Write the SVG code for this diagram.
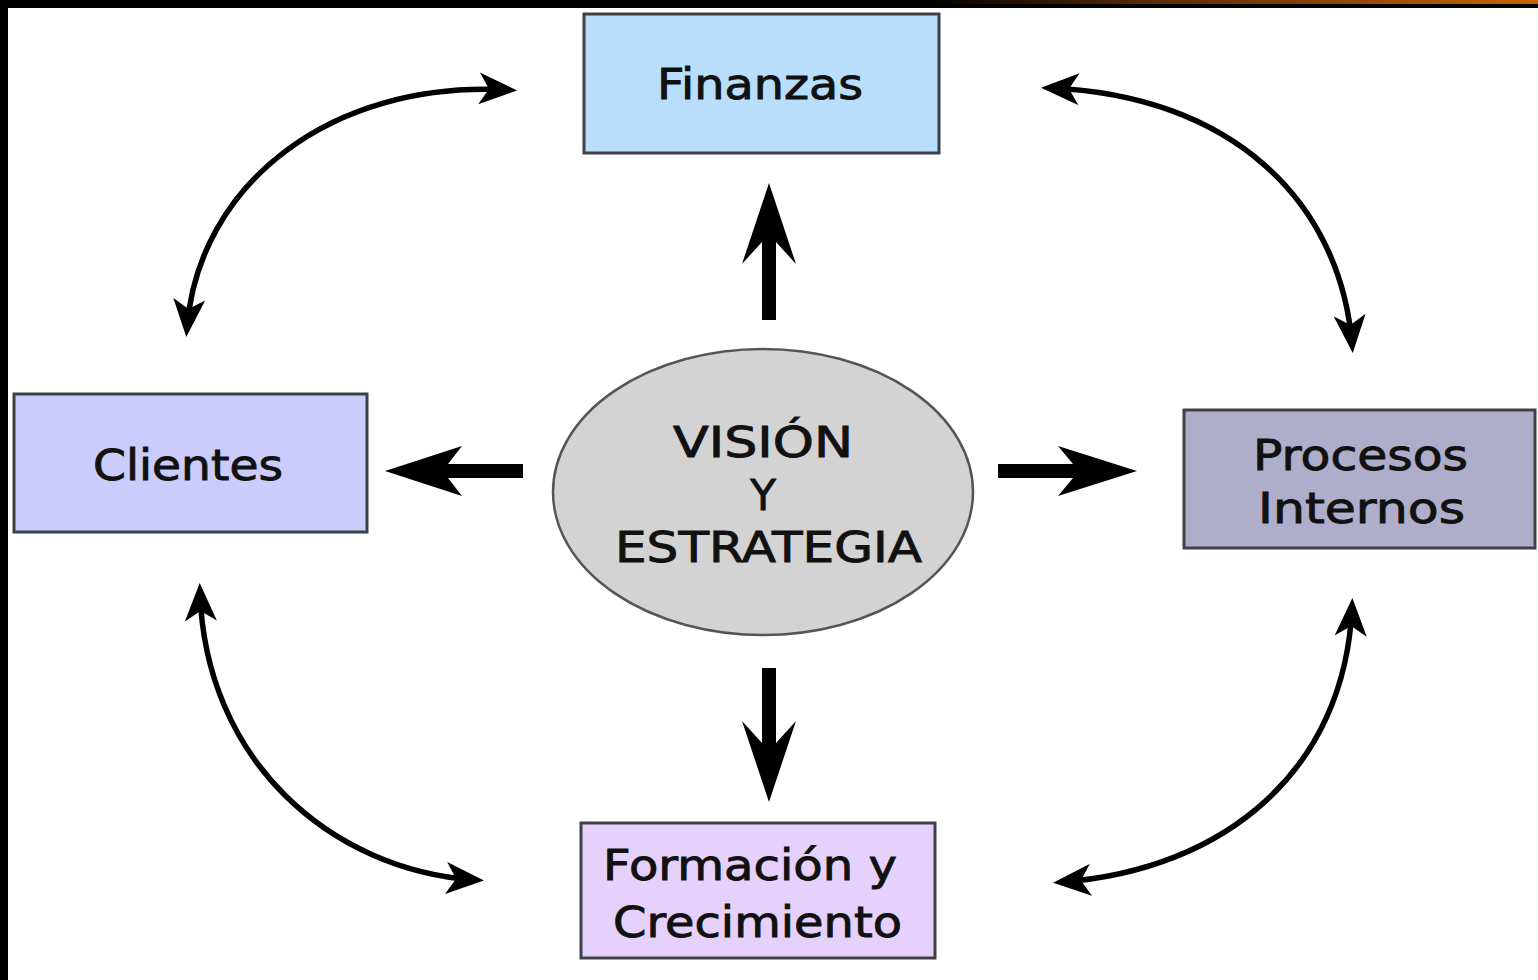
<svg xmlns="http://www.w3.org/2000/svg" width="1538" height="980" viewBox="0 0 1538 980">
<defs>
<linearGradient id="topbar" x1="0" y1="0" x2="1" y2="0">
<stop offset="0" stop-color="#000000"/>
<stop offset="0.6" stop-color="#000000"/>
<stop offset="0.75" stop-color="#5a2c04"/>
<stop offset="1" stop-color="#c86400"/>
</linearGradient>
<marker id="head" markerUnits="userSpaceOnUse" viewBox="0 0 38 32" refX="29" refY="16" markerWidth="38" markerHeight="32" orient="auto-start-reverse">
<path d="M0,0 L38,16 L0,32 L10,16 Z" fill="#000"/>
</marker>
<style>
.box{stroke:#3e4048;stroke-width:3}
.lbl{font-family:"DejaVu Sans",Verdana,sans-serif;font-size:42px;fill:#111;stroke:#111;stroke-width:0.9;text-anchor:start}
.cur{fill:none;stroke:#000;stroke-width:5.5;marker-start:url(#head);marker-end:url(#head)}
.thick{fill:#000}
</style>
</defs>
<rect x="0" y="0" width="1538" height="980" fill="#ffffff"/>
<rect x="0" y="0" width="1538" height="8" fill="#000"/>
<rect x="0" y="0" width="1538" height="4" fill="url(#topbar)"/>
<rect x="0" y="0" width="8" height="980" fill="#000"/>

<g id="connectors">
<path class="cur" d="M508,90 C330,80 198,185 187,328"/>
<path class="cur" d="M1050,88 C1230,95 1340,200 1352,344"/>
<path class="cur" d="M200,592 C205,760 330,870 475,880"/>
<path class="cur" d="M1352,607 C1345,770 1225,870 1062,882"/>
<polygon class="thick" points="769,183 796,264 776,242 776,320 762,320 762,242 742,264"/>
<polygon class="thick" points="769,802 796,721 776,743 776,668 762,668 762,743 742,721"/>
<polygon class="thick" points="385,471 462,446 448,464 523,464 523,478 448,478 462,496"/>
<polygon class="thick" points="1137,471 1058,446 1073,464 998,464 998,478 1073,478 1058,496"/>
</g>

<g id="finanzas">
<rect class="box" x="584" y="14" width="355" height="139" fill="#b8defc"/>
<text class="lbl" x="657" y="99" textLength="206" lengthAdjust="spacingAndGlyphs">Finanzas</text>
</g>

<g id="clientes">
<rect class="box" x="14" y="394" width="353" height="138" fill="#ccccfc"/>
<text class="lbl" x="93" y="480" textLength="190" lengthAdjust="spacingAndGlyphs">Clientes</text>
</g>

<g id="procesos">
<rect class="box" x="1184" y="410" width="351" height="138" fill="#aeaeca"/>
<text class="lbl" x="1253" y="470" textLength="215" lengthAdjust="spacingAndGlyphs">Procesos</text>
<text class="lbl" x="1258" y="523" textLength="207" lengthAdjust="spacingAndGlyphs">Internos</text>
</g>

<g id="formacion">
<rect class="box" x="581" y="823" width="354" height="135" fill="#e6d0fc"/>
<text class="lbl" x="603" y="880" textLength="294" lengthAdjust="spacingAndGlyphs">Formación y</text>
<text class="lbl" x="613" y="937" textLength="289" lengthAdjust="spacingAndGlyphs">Crecimiento</text>
</g>

<g id="vision">
<ellipse cx="763" cy="492" rx="210" ry="143" fill="#d3d3d3" stroke="#555" stroke-width="2.5"/>
<text class="lbl" x="673" y="457" textLength="180" lengthAdjust="spacingAndGlyphs">VISIÓN</text>
<text class="lbl" x="763" y="510" style="text-anchor:middle">Y</text>
<text class="lbl" x="615" y="562" textLength="307" lengthAdjust="spacingAndGlyphs">ESTRATEGIA</text>
</g>
</svg>
